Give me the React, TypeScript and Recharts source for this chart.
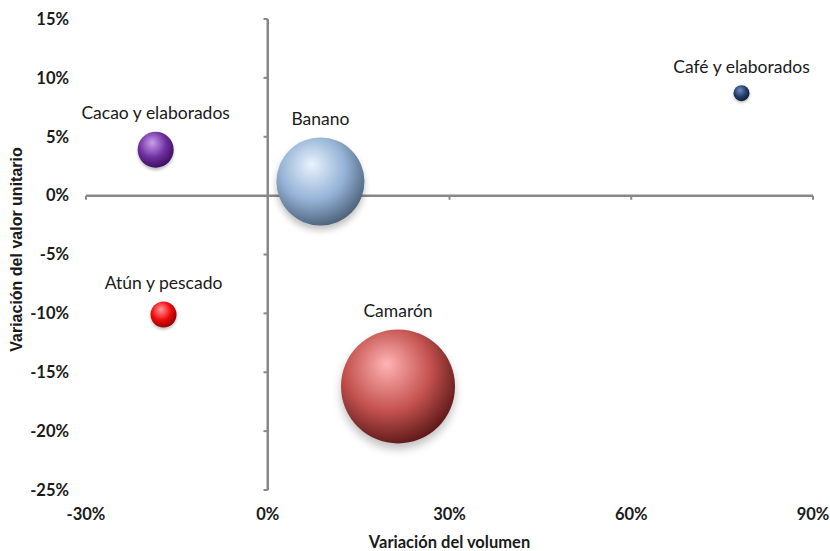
import React from 'react';
import {
  ScatterChart,
  Scatter,
  XAxis,
  YAxis,
  ZAxis,
  ReferenceLine,
  Label,
} from 'recharts';

// productos y valores (%)
const PRODUCTOS = ['Café y elaborados', 'Cacao y elaborados', 'Banano', 'Atún y pescado', 'Camarón'];
const VAR_VOLUMEN = [78.2, -18.5, 8.7, -17.2, 21.5];
const VAR_VALOR = [8.7, 3.9, 1.2, -10.1, -16.2];
const TAMANO = [64, 324, 1936, 169, 3249];

const X_TICKS = [-30, 0, 30, 60, 90];
const Y_TICKS = [15, 10, 5, 0, -5, -10, -15, -20, -25];

// [brillo, color base, borde oscuro]
const COLORES = [
  ['#6f8fc0', '#243f6e', '#0b1629'],
  ['#c9a0ee', '#7030a0', '#340a56'],
  ['#eaf3fd', '#94b2d6', '#44586f'],
  ['#ff9a9a', '#ee0a0a', '#850000'],
  ['#ffb4b4', '#c4524f', '#501212'],
];

const GRIS = '#888888';
const FONT = 'Lato, "Open Sans", sans-serif';

const Burbuja = (props: any) => {
  const { cx, cy, width, payload, idx } = props;
  const r = width / 2;
  const [luz, base, sombra] = COLORES[idx];
  const gid = `grad-${idx}`;
  return (
    <g>
      <defs>
        <radialGradient id={gid} cx="0.42" cy="0.38" r="0.68" fx="0.4" fy="0.3">
          <stop offset="0%" stopColor={luz} />
          <stop offset="55%" stopColor={base} />
          <stop offset="100%" stopColor={sombra} />
        </radialGradient>
        <filter id={`sh-${idx}`} x="-50%" y="-50%" width="200%" height="200%">
          <feGaussianBlur stdDeviation={Math.max(1.5, r / 12)} />
        </filter>
      </defs>
      <circle cx={cx} cy={cy + r * 0.08 + 1} r={r} fill="#000" opacity={0.25} filter={`url(#sh-${idx})`} />
      <circle cx={cx} cy={cy} r={r} fill={`url(#${gid})`} />
      <text
        x={cx}
        y={cy - r - 19}
        textAnchor="middle"
        dominantBaseline="central"
        fontFamily={FONT}
        fontSize={17.5}
        fill="#1a1a1a"
      >
        {payload.name}
      </text>
    </g>
  );
};

// título del eje vertical, girado
const TituloY = (props: any) => {
  const vb = props.viewBox || {};
  const x = 16;
  const y = (vb.y || 0) + (vb.height || 0) / 2 - 5;
  return (
    <text
      x={x}
      y={y}
      transform={`rotate(-90, ${x}, ${y})`}
      textAnchor="middle"
      dominantBaseline="central"
      fontFamily='"Liberation Sans", Arial, sans-serif'
      fontSize={16}
      fontWeight={700}
      fill="#1a1a1a"
    >
      Variación del valor unitario
    </text>
  );
};

export default function App() {
  const series = PRODUCTOS.map((name, i) => ({
    name,
    data: [{ name, x: VAR_VOLUMEN[i], y: VAR_VALOR[i], z: TAMANO[i] }],
  }));

  const tickStyle = { fontFamily: FONT, fontSize: 16.5, fontWeight: 700, fill: '#1a1a1a' };

  return (
    <div style={{ position: 'absolute', left: 0, top: 0, background: '#fff' }}>
      <ScatterChart width={830} height={551} margin={{ top: 19, right: 17, left: 0, bottom: 0 }}>
        <XAxis
          type="number"
          dataKey="x"
          domain={[-30, 90]}
          ticks={X_TICKS}
          axisLine={false}
          tickLine={false}
          tickSize={0}
          tickMargin={18}
          height={61}
          tickFormatter={(v) => `${v}%`}
          tick={tickStyle}
        >
          <Label
            value="Variación del volumen"
            position="insideBottom"
            offset={3}
            style={{ fontFamily: FONT, fontSize: 16.5, fontWeight: 700, fill: '#1a1a1a' }}
          />
        </XAxis>
        <YAxis
          type="number"
          dataKey="y"
          domain={[-25, 15]}
          ticks={Y_TICKS}
          axisLine={false}
          tickLine={false}
          tickSize={0}
          tickMargin={17}
          width={86}
          tickFormatter={(v) => `${v}%`}
          tick={tickStyle}
        >
          <Label content={<TituloY />} />
        </YAxis>
        <ZAxis type="number" dataKey="z" domain={[0, 4000]} range={[0, 4000 * Math.PI]} />

        <ReferenceLine x={0} stroke={GRIS} strokeWidth={2.5} />
        <ReferenceLine y={0} stroke={GRIS} strokeWidth={2.5} />
        {Y_TICKS.filter((t) => t !== 0).map((t) => (
          <ReferenceLine
            key={`yt-${t}`}
            segment={[{ x: -0.7, y: t }, { x: 0, y: t }]}
            stroke={GRIS}
            strokeWidth={2}
          />
        ))}
        {X_TICKS.filter((t) => t !== 0).map((t) => (
          <ReferenceLine
            key={`xt-${t}`}
            segment={[{ x: t, y: 0 }, { x: t, y: -0.35 }]}
            stroke={GRIS}
            strokeWidth={2}
          />
        ))}

        {series.map((s, i) => (
          <Scatter
            key={s.name}
            name={s.name}
            data={s.data}
            isAnimationActive={false}
            shape={(p: any) => <Burbuja {...p} idx={i} />}
          />
        ))}
      </ScatterChart>
    </div>
  );
}
